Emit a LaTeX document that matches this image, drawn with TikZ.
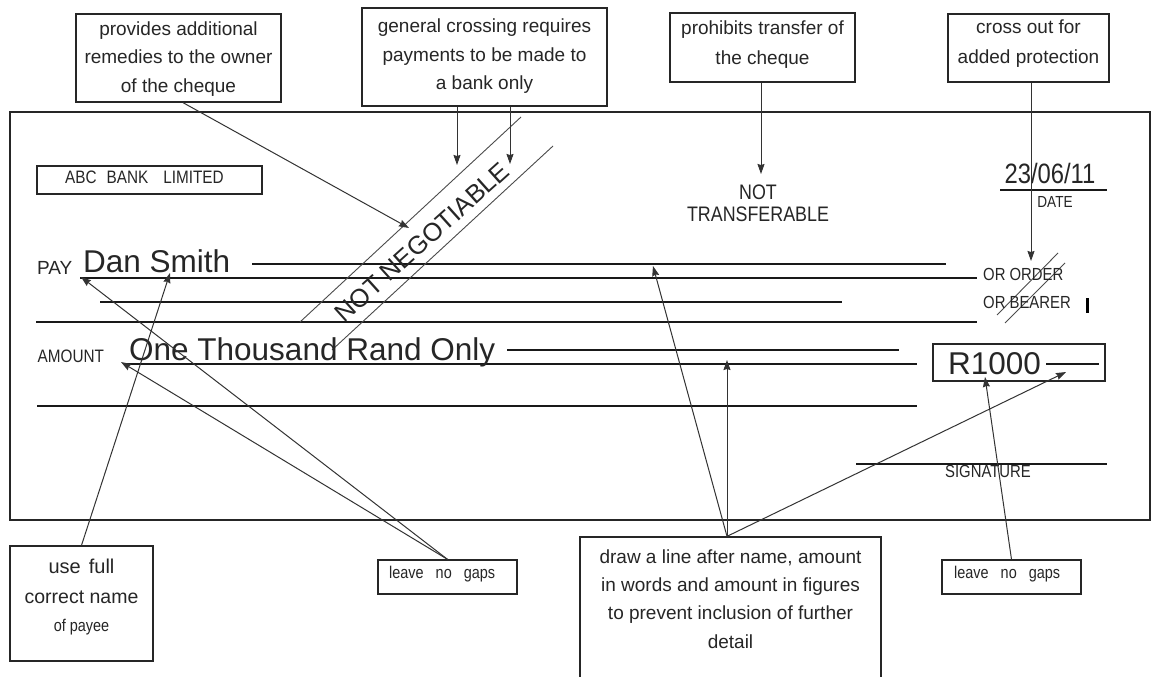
\documentclass[tikz,border=0pt]{standalone}
\usepackage{fontspec}
\setmainfont{Liberation Sans}
\newfontfamily\nf[FakeStretch=0.85]{Liberation Sans}
\usetikzlibrary{arrows.meta}
\newcommand\fsz[2]{\fontsize{#1}{#2}\selectfont}
\begin{document}
\begin{tikzpicture}[x=1pt,y=-1pt,
  callout/.style={draw=black!85, line width=1.3pt, inner sep=0pt},
  ctext/.style={align=center, inner sep=0pt, text=black!85, font=\fsz{19}{28.5}},
  lbl/.style={inner sep=0pt, text=black!85},
  conn/.style={draw=black!80, line width=1pt, -{Stealth[length=10pt,width=7pt,inset=1pt]}},
  rulel/.style={draw=black!90, line width=1.5pt},
  band/.style={draw=black!70, line width=0.9pt}]
\useasboundingbox (0,0) rectangle (1152,677);
\clip (0,0) rectangle (1152,677);
\fill[white] (0,0) rectangle (1152,677);

% cheque outline
\draw[black!85, line width=1.4pt] (10,112) rectangle (1150,520);

% ruled lines on the cheque
\draw[rulel] (252,264) -- (946,264);
\draw[rulel] (80,278) -- (977,278);
\draw[rulel] (100,302) -- (842,302);
\draw[rulel] (36,322) -- (977,322);
\draw[rulel] (507,350) -- (899,350);
\draw[rulel] (125,364) -- (917,364);
\draw[rulel] (37,406) -- (917,406);
\draw[rulel] (1000,190) -- (1107,190);
\draw[rulel] (856,464) -- (1107,464);
\draw[rulel] (1046,364) -- (1099,364);
\draw[black, line width=3pt] (1087,298) -- (1087,313);

% crossing band
\draw[band] (300,322) -- (521,117);
\draw[band] (332,350) -- (553,146);
\node[lbl, rotate=42, font=\fsz{25.5}{26}] (nn) at (422,242) {NOT NEGOTIABLE};

% strike-out lines
\draw[band] (997,315) -- (1058,253);
\draw[band] (1005,323) -- (1065,263);

% boxes inside the cheque
\node[callout, line width=1.2pt, minimum width=225pt, minimum height=28pt] (abc) at (149.5,180) {};
\node[lbl, anchor=base west, font=\nf\fsz{18}{18}] (abct) at (65,183) {ABC\hspace{10pt}BANK\hspace{15pt}LIMITED};
\node[callout, line width=1.2pt, minimum width=172pt, minimum height=37pt] (rbox) at (1019,362.5) {};
\node[lbl, anchor=base west, font=\fsz{31.5}{32}] (rtxt) at (948,374) {R1000};

% cheque texts
\node[lbl, anchor=base west, font=\fsz{19}{19}] (pay) at (37,274) {PAY};
\node[lbl, anchor=base west, font=\fsz{31.5}{32}] (name) at (83,272) {Dan Smith};
\node[lbl, anchor=base west, font=\nf\fsz{18}{18}] (amt) at (37.5,362) {AMOUNT};
\node[lbl, anchor=base west, font=\fsz{31.5}{32}] (words) at (129,360) {One Thousand Rand Only};
\node[lbl, align=center, font=\nf\fsz{21}{22}] (ntr) at (758,203.5) {NOT\\TRANSFERABLE};
\node[lbl, anchor=base, font=\nf\fsz{28}{28}] (date) at (1050,183) {23/06/11};
\node[lbl, anchor=base, font=\nf\fsz{16}{16}] (datel) at (1055,207) {DATE};
\node[lbl, anchor=base west, font=\nf\fsz{17.5}{18}] (ord) at (983,280) {OR ORDER};
\node[lbl, anchor=base west, font=\nf\fsz{17.5}{18}] (bea) at (983,308) {OR BEARER};
\node[lbl, anchor=base, font=\nf\fsz{17.5}{18}] (sig) at (988,477) {SIGNATURE};

% callout boxes
\node[callout, minimum width=205pt, minimum height=88pt] (b1) at (178.5,58) {};
\node[ctext] (t1) at (178.5,59) {provides additional\\remedies to the owner\\of the cheque};
\node[callout, minimum width=245pt, minimum height=98pt] (b2) at (484.5,57) {};
\node[ctext] (t2) at (484.5,56.5) {general crossing requires\\payments to be made to\\a bank only};
\node[callout, minimum width=185pt, minimum height=69pt] (b3) at (762.5,47.5) {};
\node[ctext, font=\fsz{19}{30}] (t3) at (762.5,45) {prohibits transfer of\\the cheque};
\node[callout, minimum width=161pt, minimum height=68pt] (b4) at (1028.5,48) {};
\node[ctext, font=\fsz{19}{30}] (t4) at (1028.5,44) {cross out for\\added protection};
\node[callout, minimum width=143pt, minimum height=115pt] (b5) at (81.5,603.5) {};
\node[lbl, anchor=base, font=\fsz{20}{20}] (t5a) at (81.5,573) {use\hspace{8pt}full};
\node[lbl, anchor=base, font=\fsz{19.5}{20}] (t5b) at (81.5,603) {correct name};
\node[lbl, anchor=base, font=\nf\fsz{17}{18}] (t5c) at (81.5,631) {of payee};
\node[callout, minimum width=139pt, minimum height=34pt] (b6) at (447.5,577) {};
\node[lbl, anchor=base west, font=\nf\fsz{17}{18}] (t6) at (389,578) {leave\hspace{12pt}no\hspace{12pt}gaps};
\node[callout, minimum width=301pt, minimum height=183pt] (b7) at (730.5,628.5) {};
\node[ctext, font=\fsz{19}{28.3}] (t7) at (730.5,599) {draw a line after name, amount\\in words and amount in figures\\to prevent inclusion of further\\detail};
\node[callout, minimum width=139pt, minimum height=34pt] (b8) at (1011.5,577) {};
\node[lbl, anchor=base west, font=\nf\fsz{17}{18}] (t8) at (954,578) {leave\hspace{12pt}no\hspace{12pt}gaps};

% connector targets
\coordinate (a1) at (409,228);
\coordinate (a2) at (457,165);
\coordinate (a3) at (510,164);
\coordinate (a4) at (761,174);
\coordinate (a5) at (1031,261);
\coordinate (a6) at (170,273);
\coordinate (a7) at (81,277);
\coordinate (a8) at (121,362);
\coordinate (a9) at (653,266);
\coordinate (a10) at (727,360);
\coordinate (a11) at (1066,372);
\coordinate (a12) at (985,377);

% connectors
\draw[conn] ([xshift=4.5pt]b1.south) -- (a1);
\draw[conn] ([xshift=-27.5pt]b2.south) -- (a2);
\draw[conn] ([xshift=25.5pt]b2.south) -- (a3);
\draw[conn] ([xshift=-1.5pt]b3.south) -- (a4);
\draw[conn] ([xshift=2.5pt]b4.south) -- (a5);
\draw[conn] (b5.north) -- (a6);
\draw[conn] (b6.north) -- (a7);
\draw[conn] (b6.north) -- (a8);
\draw[conn] ([xshift=-3.5pt]b7.north) -- (a9);
\draw[conn] ([xshift=-3.5pt]b7.north) -- (a10);
\draw[conn] ([xshift=-3.5pt]b7.north) -- (a11);
\draw[conn] (b8.north) -- (a12);
\end{tikzpicture}
\end{document}
